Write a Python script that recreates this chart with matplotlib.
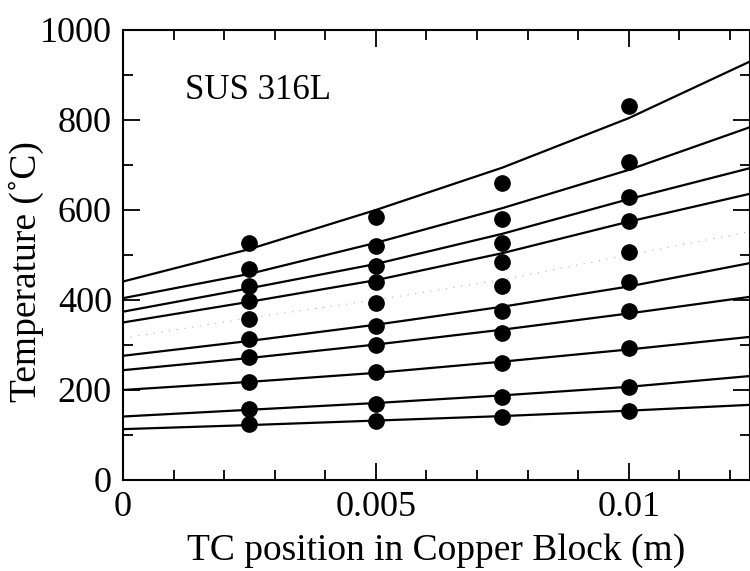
import numpy as np
import matplotlib
matplotlib.use("Agg")
import matplotlib.pyplot as plt
from matplotlib.ticker import MultipleLocator

plt.rcParams['font.family'] = ['Liberation Serif', 'DejaVu Serif']

# measured thermocouple temperatures (deg C), one list per TC position
tc_pos = [0.0025, 0.005, 0.0075, 0.01]
t_0025 = [526, 469, 431, 398, 357, 313, 274, 218, 157, 124]
t_0050 = [584, 520, 476, 441, 393, 342, 300, 241, 169, 130]
t_0075 = [661, 579, 526, 485, 431, 376, 326, 259, 185, 141]
t_0100 = [831, 707, 628, 576, 507, 440, 376, 294, 207, 153]

# fitted curves at these positions
curve_x = [0, 0.0025, 0.005, 0.0075, 0.01, 0.0124]
curves = [
    [441, 513, 600, 694, 804, 930],
    [404, 458, 527, 604, 689, 784],
    [374, 426, 480, 547, 624, 693],
    [350, 396, 444, 504, 574, 636],
    [315, 360, 400, 445, 500, 552],
    [276, 309, 345, 385, 430, 482],
    [244, 271, 301, 334, 370, 407],
    [200, 218, 238, 263, 290, 318],
    [141, 156, 171, 188, 207, 231],
    [113, 122, 132, 142, 154, 167],
]
faint = 4  # this one is barely visible in the scan

fig = plt.figure(figsize=(7.5, 5.71), dpi=100)
ax = fig.add_axes([0.164, 0.1594, 0.836, 0.7881])

for i, c in enumerate(curves):
    if i == faint:
        ax.plot(curve_x, c, color="#b0b0b0", lw=0.8, ls=(0, (1, 6)))
    else:
        ax.plot(curve_x, c, color="black", lw=1.6)

cols = np.array([t_0025, t_0050, t_0075, t_0100])
for x, temps in zip(tc_pos, cols):
    ax.plot([x] * len(temps), temps, "o", color="black", ms=11, zorder=3)

ax.set_xlim(0, 0.0124)
ax.set_ylim(0, 1000)
ax.xaxis.set_minor_locator(MultipleLocator(0.001))
ax.yaxis.set_major_locator(MultipleLocator(200))
ax.yaxis.set_minor_locator(MultipleLocator(100))
ax.set_xticks([0, 0.005, 0.01])
ax.set_xticklabels(["0", "0.005", "0.01"])

ax.tick_params(which="both", direction="in", top=True, right=True, width=1.3,
               labelsize=26, pad=8)
ax.tick_params(which="major", length=12)
ax.tick_params(which="minor", length=7)
for s in ax.spines.values():
    s.set_linewidth(1.5)

ax.set_xlabel("TC position in Copper Block (m)", fontsize=27, labelpad=7)
ax.set_ylabel("Temperature (˚C)", fontsize=27)
ax.yaxis.set_label_coords(-0.126, 0.464)

ax.text(0.00123, 866, "SUS 316L", fontsize=25, va="center", ha="left")

fig.savefig("out.png", dpi=100)
plt.close(fig)
